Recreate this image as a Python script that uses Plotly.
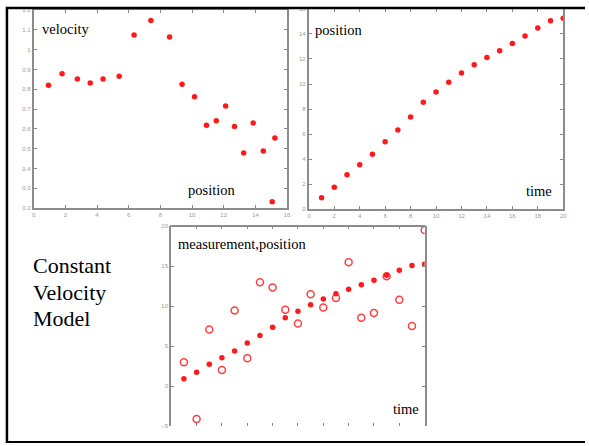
import plotly.graph_objects as go

W, H = 589, 446

# ---- data ----
time = list(range(1, 21))
position = [0.92, 1.75, 2.75, 3.55, 4.38, 5.38, 6.33, 7.37, 8.55, 9.36,
            10.15, 10.89, 11.54, 12.11, 12.66, 13.23, 13.84, 14.48, 15.05, 15.25]
velocity = [0.82, 0.878, 0.851, 0.831, 0.851, 0.866, 1.073, 1.147, 1.063, 0.825,
            0.762, 0.618, 0.641, 0.716, 0.612, 0.479, 0.630, 0.489, 0.233, 0.554]
measurement = [3.0, -4.1, 7.07, 2.02, 9.45, 3.5, 12.98, 12.32, 9.53, 7.81,
               11.46, 9.82, 11.0, 15.48, 8.55, 9.12, 13.72, 10.8, 7.52, 19.5]

vel_x = [0.935, 1.79, 2.76, 3.57, 4.38, 5.40, 6.34, 7.40, 8.58, 9.37,
         10.16, 10.91, 11.53, 12.12, 12.68, 13.26, 13.86, 14.50, 15.06, 15.23]

title_lines = ["Constant", "Velocity", "Model"]


def px_x(p):
    return p / W


def px_y(p):
    return 1 - p / H


fig = go.Figure()

dot = dict(color="#ff1a1a", size=5.5, symbol="circle")

fig.add_trace(go.Scatter(x=vel_x, y=velocity, mode="markers", marker=dot,
                         xaxis="x", yaxis="y", showlegend=False))
fig.add_trace(go.Scatter(x=time, y=position, mode="markers", marker=dot,
                         xaxis="x2", yaxis="y2", showlegend=False))
fig.add_trace(go.Scatter(x=time, y=measurement, mode="markers",
                         marker=dict(symbol="circle-open", size=7, color="#ff4040",
                                     line=dict(color="#ff4040", width=1.5)),
                         xaxis="x3", yaxis="y3", showlegend=False))
fig.add_trace(go.Scatter(x=time, y=position, mode="markers", marker=dot,
                         xaxis="x3", yaxis="y3", showlegend=False))

axis_common = dict(showgrid=False, zeroline=False, ticks="inside", ticklen=3,
                   tickcolor="#888888", tickwidth=1,
                   tickfont=dict(family="Liberation Sans", size=6, color="#9a9a9a"),
                   linecolor="#8c8c8c", linewidth=2)

fig.update_layout(
    width=W, height=H,
    margin=dict(l=0, r=0, t=0, b=0),
    paper_bgcolor="white", plot_bgcolor="white",
    xaxis=dict(domain=[px_x(32), px_x(288)], range=[0, 16], dtick=2,
               anchor="y", showline=True, mirror="ticks", **axis_common),
    yaxis=dict(domain=[px_y(208), px_y(7)], range=[0.2, 1.2], dtick=0.1,
               anchor="x", showline=True, mirror="ticks", **axis_common),
    xaxis2=dict(domain=[px_x(310), px_x(567)], range=[0, 20], dtick=2,
                anchor="y2", showline=True, mirror="ticks", **axis_common),
    yaxis2=dict(domain=[px_y(209), px_y(6)], range=[0, 16], dtick=2,
                anchor="x2", showline=True, mirror="ticks", **axis_common),
    xaxis3=dict(domain=[px_x(171), px_x(427)], range=[0, 20], dtick=2,
                anchor="y3", showline=False, mirror="ticks", showticklabels=False,
                **axis_common),
    yaxis3=dict(domain=[px_y(429), px_y(226)], range=[-5, 20], dtick=5,
                anchor="x3", showline=True, mirror="ticks", **axis_common),
)

shapes = [
    # top line of plot 3 frame
    dict(type="line", xref="paper", yref="paper", x0=px_x(170), x1=px_x(428),
         y0=px_y(226), y1=px_y(226), line=dict(color="#8c8c8c", width=2)),
    # slide border
    dict(type="line", xref="paper", yref="paper", x0=px_x(5), x1=px_x(5),
         y0=px_y(4), y1=px_y(446), line=dict(color="black", width=2.5)),
    dict(type="line", xref="paper", yref="paper", x0=px_x(4), x1=1,
         y0=px_y(5), y1=px_y(5), line=dict(color="black", width=2.5)),
    dict(type="line", xref="paper", yref="paper", x0=px_x(4), x1=1,
         y0=px_y(445), y1=px_y(445), line=dict(color="black", width=2)),
]
fig.update_layout(shapes=shapes)

serif = "Liberation Serif"


def label(text, x, y, size=14.5):
    return dict(text=text, xref="paper", yref="paper", x=px_x(x), y=px_y(y),
                xanchor="left", yanchor="middle", showarrow=False,
                font=dict(family=serif, size=size, color="black"))


annotations = [
    label("velocity", 38, 26),
    label("position", 186, 190),
    label("position", 314, 27),
    label("time", 527, 191),
    label("measurement,position", 176, 244),
    label("time", 393, 412),
]
for i, line in enumerate(title_lines):
    annotations.append(label(line, 29, 266 + 27 * i, size=22))
fig.update_layout(annotations=annotations)

fig.write_html(
    "out.html",
    config={"displayModeBar": False},
    post_script="document.body.style.margin='0';document.body.style.padding='0';"
                "document.body.style.overflow='hidden';",
)
